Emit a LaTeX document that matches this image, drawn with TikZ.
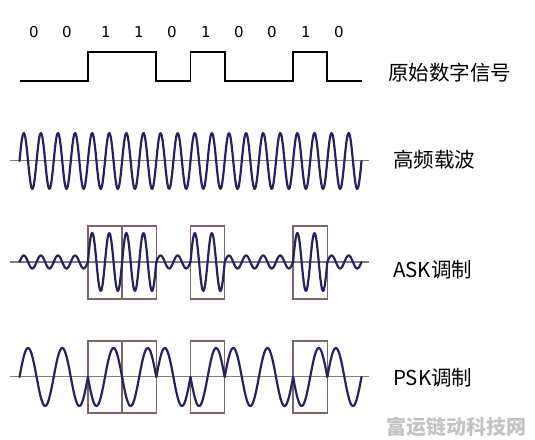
\documentclass[tikz,border=0pt]{standalone}
\usepackage{fontspec}
\newfontfamily\cjk{Noto Sans CJK SC}
\newfontfamily\digitfont{DejaVu Sans}
\definecolor{wavec}{RGB}{38,34,96}
\definecolor{boxc}{RGB}{125,100,106}
\definecolor{axisc}{RGB}{125,125,135}
\definecolor{wmark}{RGB}{195,195,195}
\tikzset{
  wave/.style={draw=wavec, line width=2.2pt, line join=round, line cap=round},
  axisline/.style={draw=axisc, line width=1.1pt},
  bitbox/.style={draw=boxc, line width=1.3pt},
  digital/.style={draw=black, line width=1.9pt},
  bitlabel/.style={font=\digitfont\fontsize{15}{17}\selectfont, inner sep=0pt},
  rowlabel/.style={font=\cjk\fontsize{20.5}{24}\selectfont, anchor=west, inner sep=0pt},
}
\begin{document}
\begin{tikzpicture}[x=1pt, y=-1pt]
\useasboundingbox (0,0) rectangle (535,439);
\def\bw{34.2}
\def\xo{19.5}
% bit labels
\foreach \lab/\px [count=\k] in {0/34,0/67,1/106,1/139,0/172,1/206,0/239,0/272,1/306,0/339}
  \node[bitlabel] (bit\k) at (\px,32) {\lab};
% digital signal
\coordinate (d0) at (\xo,81);
\draw[digital] (d0) -- (87.9,81) -- (87.9,52) -- (156.3,52) -- (156.3,81) -- (190.5,81) -- (190.5,52)
  -- (224.7,52) -- (224.7,81) -- (293.1,81) -- (293.1,52) -- (327.3,52) -- (327.3,81) -- (361.5,81);
% boxes
\foreach \b [count=\i from 0] in {0,0,1,1,0,1,0,0,1,0} {
  \pgfmathsetmacro\xa{\xo+\i*\bw}
  \pgfmathsetmacro\xb{\xa+\bw}
  \ifnum\b=1
    \draw[bitbox] (\xa,226) rectangle (\xb,299);
    \draw[bitbox] (\xa,341) rectangle (\xb,413);
  \fi
}
% axes
\coordinate (c1) at (10,160.7); \coordinate (c2) at (369,160.7);
\coordinate (a1) at (10,262); \coordinate (a2) at (369,262);
\coordinate (p1) at (10,376.7); \coordinate (p2) at (369,376.7);
\draw[axisline] (c1) -- (c2);
\draw[axisline] (a1) -- (a2);
\draw[axisline] (p1) -- (p2);
% carrier
\draw[wave] plot[domain=\xo:361.5, samples=400, smooth] (\x, {161 - 28*sin((\x-\xo)/\bw*720)});
% ASK and PSK
\foreach \b [count=\i from 0] in {0,0,1,1,0,1,0,0,1,0} {
  \pgfmathsetmacro\xa{\xo+\i*\bw}
  \pgfmathsetmacro\xb{\xa+\bw}
  \pgfmathsetmacro\amp{\b==1 ? 29 : 6.5}
  \pgfmathsetmacro\sgn{\b==1 ? -1 : 1}
  \draw[wave] plot[domain=\xa:\xb, samples=50, smooth] (\x, {262 - \amp*sin((\x-\xa)/\bw*720)});
  \draw[wave] plot[domain=\xa:\xb, samples=40, smooth] (\x, {377 - 29*\sgn*sin((\x-\xa)/\bw*360)});
}
% labels
\node[rowlabel] (l1) at (388,73) {原始数字信号};
\node[rowlabel] (l2) at (393,160) {高频载波};
\node[rowlabel] (l3) at (393,270) {ASK调制};
\node[rowlabel] (l4) at (393,378) {PSK调制};
\node[rowlabel, font=\cjk\bfseries\fontsize{20}{24}\selectfont, text=wmark] (wm) at (386,427) {富运链动科技网};
\end{tikzpicture}
\end{document}
